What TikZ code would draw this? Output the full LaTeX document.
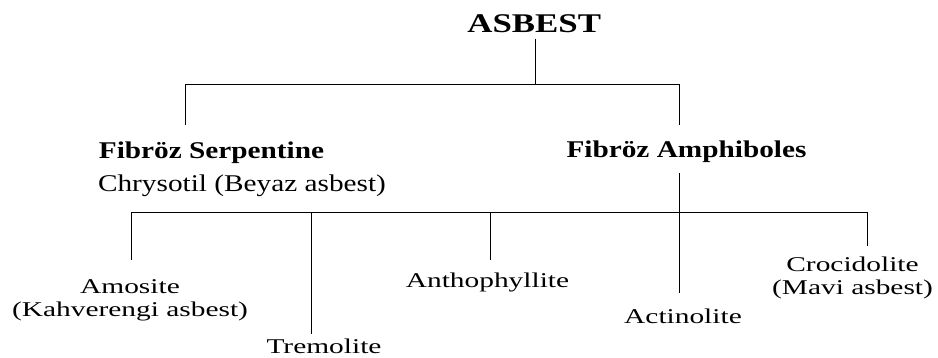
\documentclass[tikz,border=0pt]{standalone}
\usepackage{fontspec}
\setmainfont{Liberation Serif}
\begin{document}
\begin{tikzpicture}[x=1pt,y=-1pt,
  line/.style={line width=1pt,black},
  title/.style={anchor=base,inner sep=0pt,xscale=1.29,font=\fontsize{27}{30}\selectfont\bfseries},
  group/.style={anchor=base,inner sep=0pt,xscale=1.22,font=\fontsize{24}{28}\selectfont\bfseries},
  sub/.style={anchor=base,inner sep=0pt,xscale=1.22,font=\fontsize{24}{28}\selectfont},
  leaf/.style={anchor=base,inner sep=0pt,xscale=1.4,align=center,font=\fontsize{21}{23.5}\selectfont}]
\useasboundingbox (0,0) rectangle (938,358);
\fill[white] (0,0) rectangle (938,358);
% nodes
\node[title] (asbest) at (534.2,33) {ASBEST};
\node[group] (serp) at (211.5,159) {Fibröz Serpentine};
\node[group] (amph) at (686.5,157.5) {Fibröz Amphiboles};
\node[sub] (chry) at (242,191.5) {Chrysotil (Beyaz asbest)};
\node[leaf] (amos) at (130,317) {Amosite\\(Kahverengi asbest)};
\node[leaf] (trem) at (324,353) {Tremolite};
\node[leaf] (anth) at (487.5,287.3) {Anthophyllite};
\node[leaf] (acti) at (683,323.3) {Actinolite};
\node[leaf] (croc) at (852.5,295) {Crocidolite\\(Mavi asbest)};
% connector ends
\coordinate (aTop) at (535.7,39);
\coordinate (aJ) at (535.7,85);
\coordinate (sEnd) at (185,125);
\coordinate (mEnd) at (679,125);
\coordinate (mTop) at (679,173);
\coordinate (acEnd) at (679,293);
\coordinate (amEnd) at (131,260);
\coordinate (trTop) at (311.7,213);
\coordinate (trEnd) at (311.7,334);
\coordinate (anTop) at (490.7,213);
\coordinate (anEnd) at (490.7,260);
\coordinate (crEnd) at (867,246);
% connectors
\draw[line] (aTop) -- (aJ);
\draw[line] (sEnd) -- (sEnd |- aJ) -- (mEnd |- aJ) -- (mEnd);
\draw[line] (mTop) -- (acEnd);
\draw[line] (amEnd) -- (amEnd |- trTop) -- (crEnd |- trTop) -- (crEnd);
\draw[line] (trTop) -- (trEnd);
\draw[line] (anTop) -- (anEnd);
\end{tikzpicture}
\end{document}
